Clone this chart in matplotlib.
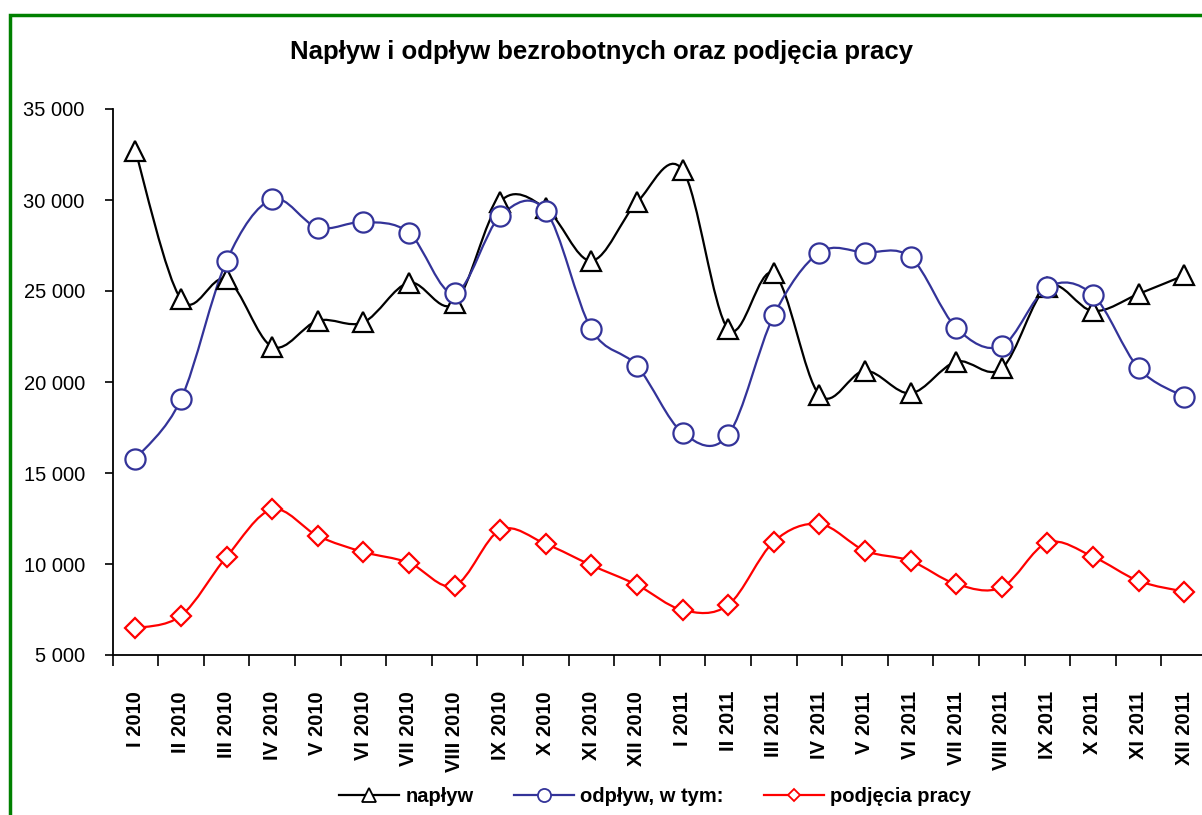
import matplotlib
matplotlib.use("Agg")
import matplotlib.pyplot as plt
from matplotlib.path import Path
from matplotlib.patches import PathPatch, Rectangle
from matplotlib.lines import Line2D
from matplotlib.ticker import FuncFormatter, MultipleLocator

plt.rcParams["font.family"] = ["Liberation Sans", "DejaVu Sans"]

# month labels
months = ["I 2010", "II 2010", "III 2010", "IV 2010", "V 2010", "VI 2010",
          "VII 2010", "VIII 2010", "IX 2010", "X 2010", "XI 2010", "XII 2010",
          "I 2011", "II 2011", "III 2011", "IV 2011", "V 2011", "VI 2011",
          "VII 2011", "VIII 2011", "IX 2011", "X 2011", "XI 2011", "XII 2011"]

naplyw = [32690, 24540, 25640, 21940, 23370, 23280, 25460, 24320, 29910, 29540, 26660, 29870,
          31650, 22900, 25970, 19290, 20620, 19380, 21120, 20750, 25240, 23900, 24840, 25860]
odplyw = [15770, 19050, 26660, 30040, 28480, 28790, 28200, 24870, 29120, 29400, 22900, 20880,
          17210, 17090, 23660, 27110, 27110, 26850, 22980, 21980, 25200, 24780, 20750, 19190]
podjecia = [6470, 7160, 10400, 13000, 11540, 10660, 10070, 8810, 11870, 11100, 9930, 8850,
            7470, 7750, 11230, 12200, 10730, 10170, 8900, 8720, 11170, 10400, 9070, 8480]

series = [
    ("napływ", naplyw, "black", "^", 15),
    ("odpływ, w tym:", odplyw, "#333399", "o", 14.5),
    ("podjęcia pracy", podjecia, "red", "D", 10),
]


def smooth_path(xs, ys):
    # Excel-like smoothed line: Catmull-Rom as cubic Bezier segments
    verts = [(xs[0], ys[0])]
    codes = [Path.MOVETO]
    n = len(xs)
    for i in range(n - 1):
        x0, y0 = (xs[i - 1], ys[i - 1]) if i > 0 else (xs[i], ys[i])
        x1, y1 = xs[i], ys[i]
        x2, y2 = xs[i + 1], ys[i + 1]
        x3, y3 = (xs[i + 2], ys[i + 2]) if i + 2 < n else (x2, y2)
        c1 = (x1 + (x2 - x0) / 6, y1 + (y2 - y0) / 6)
        c2 = (x2 - (x3 - x1) / 6, y2 - (y3 - y1) / 6)
        verts += [c1, c2, (x2, y2)]
        codes += [Path.CURVE4] * 3
    return Path(verts, codes)


fig = plt.figure(figsize=(12.02, 8.15), dpi=100)
ax = fig.add_axes([112.6 / 1202, 1 - 655 / 815, (1207 - 112.6) / 1202, (655 - 109) / 815])

x = list(range(len(months)))
handles = []
for name, vals, color, marker, ms in series:
    ax.add_patch(PathPatch(smooth_path(x, vals), facecolor="none", edgecolor=color,
                           lw=1.6, zorder=2))
    ax.plot(x, vals, linestyle="none", marker=marker, markersize=ms,
            markerfacecolor="white", markeredgecolor=color, markeredgewidth=1.6, zorder=3,
            clip_on=False)
    handles.append(Line2D([], [], color=color, lw=1.6, marker=marker, markersize=ms * 0.65,
                          markerfacecolor="white", markeredgecolor=color,
                          markeredgewidth=1.3, label=name))

ax.set_xlim(-0.5, len(months) - 0.5)
ax.set_ylim(5000, 35000)
ax.yaxis.set_major_locator(MultipleLocator(5000))
ax.yaxis.set_major_formatter(FuncFormatter(lambda v, p: f"{int(v):,}".replace(",", " ")))
ax.tick_params(axis="y", labelsize=14.5, length=6, width=1.2, pad=14)

ax.set_xticks(x)
ax.set_xticklabels(months, rotation=90, fontsize=14.5, fontweight="bold")
ax.set_xticks([i - 0.5 for i in range(len(months) + 1)], minor=True)
ax.tick_params(axis="x", which="major", length=0, pad=26)
ax.tick_params(axis="x", which="minor", length=8, width=1.2)

for s in ["top", "right"]:
    ax.spines[s].set_visible(False)
for s in ["left", "bottom"]:
    ax.spines[s].set_linewidth(1.3)

fig.text(0.5, 1 - 52 / 815, "Napływ i odpływ bezrobotnych oraz podjęcia pracy",
         ha="center", va="center", fontsize=18.5, fontweight="bold")

fig.legend(handles=handles, loc="center", bbox_to_anchor=(0.545, 1 - 797 / 815), ncol=3,
           frameon=False, handlelength=3, columnspacing=2.0, handletextpad=0.3,
           prop={"weight": "bold", "size": 14.5})

# green outer frame (cropped on right and bottom)
fig.patches.append(Rectangle((10 / 1202, -0.1), 1.2, 1 - 15 / 815 + 0.1,
                             transform=fig.transFigure, fill=False,
                             edgecolor="#008000", lw=2.5))

fig.savefig("out.png", dpi=100)
